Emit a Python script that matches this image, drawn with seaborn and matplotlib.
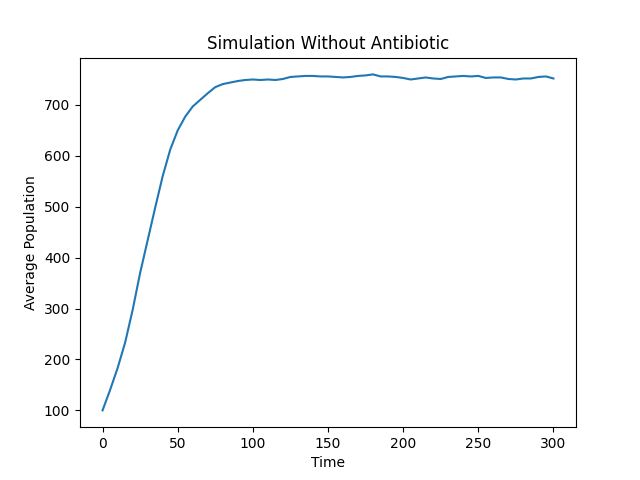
import numpy as np
import matplotlib
matplotlib.use("Agg")
import matplotlib.pyplot as plt
import seaborn as sns

time = np.arange(0, 301, 5)
avg_population = [
    100, 140, 183, 233, 297, 370, 434, 498, 560, 612,
    650, 677, 697, 710, 723, 735, 741, 744, 747, 749,
    750, 749, 750, 749, 751, 755, 756, 757, 757, 756,
    756, 755, 754, 755, 757, 758, 760, 756, 756, 755,
    753, 750, 752, 754, 752, 751, 755, 756, 757, 756,
    757, 753, 754, 754, 751, 750, 752, 752, 755, 756,
    752,
]

# === PLOT ===
fig, ax = plt.subplots(figsize=(6.4, 4.8), dpi=100)
sns.lineplot(x=time, y=avg_population, ax=ax)
ax.set_title("Simulation Without Antibiotic")
ax.set_xlabel("Time")
ax.set_ylabel("Average Population")
fig.savefig("out.png")
